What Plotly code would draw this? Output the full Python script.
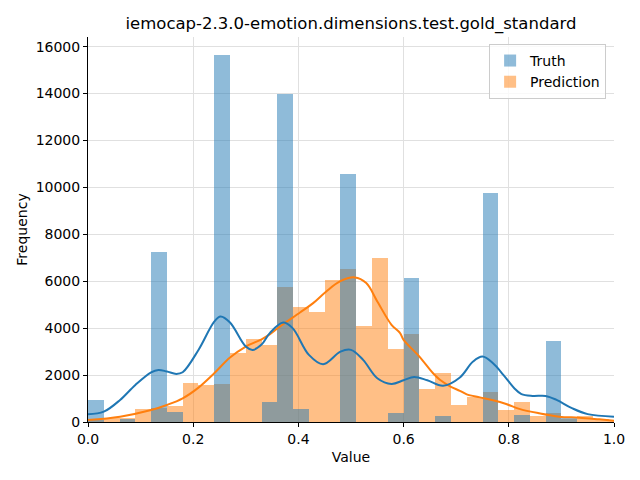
import plotly.graph_objects as go

# Histogram bins (left edges), width 0.03
bin_left = [0.00, 0.03, 0.06, 0.09, 0.12, 0.15, 0.18, 0.21, 0.24, 0.27,
            0.30, 0.33, 0.36, 0.39, 0.42, 0.45, 0.48, 0.51, 0.54, 0.57,
            0.60, 0.63, 0.66, 0.69, 0.72, 0.75, 0.78, 0.81, 0.84, 0.87,
            0.90, 0.93, 0.96, 0.99]
bin_width = 0.03

truth_counts = [940, 0, 110, 0, 7250, 430, 0, 0, 15630, 0,
                0, 855, 13960, 555, 0, 0, 10580, 0, 0, 400,
                6150, 0, 256, 0, 0, 9775, 0, 300, 0, 3455,
                150, 0, 0, 0]
pred_counts = [100, 185, 150, 555, 612, 685, 1665, 1580, 1620, 2946,
               3544, 3290, 5765, 4910, 4670, 6063, 6533, 4100, 7003, 3131,
               3758, 1409, 2092, 740, 1081, 1281, 512, 854, 256, 384,
               140, 242, 114, 40]

# KDE curves
truth_kde_x = [0.0, 0.03, 0.061, 0.09, 0.12, 0.134, 0.15, 0.168, 0.18, 0.21,
               0.24, 0.252, 0.27, 0.30, 0.313, 0.33, 0.346, 0.371, 0.389, 0.42,
               0.447, 0.48, 0.50, 0.523, 0.55, 0.577, 0.60, 0.62, 0.645, 0.675,
               0.707, 0.732, 0.750, 0.77, 0.79, 0.81, 0.824, 0.845, 0.87, 0.89,
               0.92, 0.95, 1.0]
truth_kde_y = [330, 440, 940, 1580, 2120, 2220, 2150, 2050, 2120, 3070,
               4280, 4500, 4240, 3216, 3074, 3300, 3800, 4240, 4000, 2860,
               2460, 3000, 3074, 2650, 1865, 1620, 1780, 1920, 1780, 1545,
               1900, 2576, 2790, 2505, 2000, 1450, 1190, 1110, 1110, 950,
               590, 335, 228]

pred_kde_x = [0.0, 0.061, 0.12, 0.15, 0.18, 0.21, 0.24, 0.27, 0.30, 0.33,
              0.346, 0.365, 0.403, 0.428, 0.453, 0.479, 0.507, 0.529, 0.55, 0.577,
              0.593, 0.60, 0.63, 0.656, 0.669, 0.69, 0.707, 0.72, 0.745, 0.77,
              0.795, 0.82, 0.858, 0.896, 0.934, 0.972, 1.0]
pred_kde_y = [85, 228, 512, 726, 1010, 1466, 2078, 2747, 3216, 3520,
              3743, 4070, 4668, 5067, 5565, 5992, 6163, 5922, 5138, 4142,
              3800, 3500, 2790, 2078, 1800, 1500, 1330, 1180, 1050, 930,
              770, 560, 370, 228, 185, 114, 57]

blue = "#1f77b4"
orange = "#ff7f0e"
blue_fill = "rgba(31,119,180,0.5)"
orange_fill = "rgba(255,127,14,0.5)"
bin_center = [b + bin_width / 2 for b in bin_left]

fig = go.Figure()
fig.add_trace(go.Bar(x=bin_center, y=pred_counts, width=bin_width, name="Prediction",
                     marker=dict(color=orange_fill, line=dict(width=0)),
                     legendrank=2))
fig.add_trace(go.Bar(x=bin_center, y=truth_counts, width=bin_width, name="Truth",
                     marker=dict(color=blue_fill, line=dict(width=0)),
                     legendrank=1))
fig.add_trace(go.Scatter(x=pred_kde_x, y=pred_kde_y, mode="lines",
                         line=dict(color=orange, width=2, shape="spline", smoothing=1.0),
                         showlegend=False, hoverinfo="skip"))
fig.add_trace(go.Scatter(x=truth_kde_x, y=truth_kde_y, mode="lines",
                         line=dict(color=blue, width=2, shape="spline", smoothing=1.0),
                         showlegend=False, hoverinfo="skip"))

fig.update_layout(
    width=640, height=480,
    barmode="overlay", bargap=0,
    paper_bgcolor="white", plot_bgcolor="white",
    font=dict(family="DejaVu Sans", size=14, color="black"),
    margin=dict(l=80, r=34, t=29, b=66, autoexpand=False),
    title=dict(text="iemocap-2.3.0-emotion.dimensions.test.gold_standard",
               x=0.5, xref="paper", xanchor="center",
               y=1 - 15 / 480, yref="container", yanchor="middle",
               font=dict(size=16.5, color="black")),
    legend=dict(x=0.985, y=0.982, xanchor="right", yanchor="top",
                bgcolor="rgba(255,255,255,0.8)", bordercolor="#cccccc", borderwidth=1,
                font=dict(size=14), traceorder="normal", tracegroupgap=0),
    xaxis=dict(range=[0, 1], tickvals=[0, 0.2, 0.4, 0.6, 0.8, 1.0],
               ticktext=["0.0", "0.2", "0.4", "0.6", "0.8", "1.0"],
               showgrid=True, gridcolor="#e0e0e0", gridwidth=0.8,
               showline=True, linecolor="black", linewidth=1,
               ticks="outside", ticklen=4, tickcolor="black",
               zeroline=False,
               title=dict(text="Value", standoff=6, font=dict(size=14))),
    yaxis=dict(range=[0, 16410], tickvals=[0, 2000, 4000, 6000, 8000, 10000, 12000, 14000, 16000],
               showgrid=True, gridcolor="#e0e0e0", gridwidth=0.8,
               showline=True, linecolor="black", linewidth=1,
               ticks="outside", ticklen=4, tickcolor="black",
               zeroline=False, tickformat="d",
               title=dict(text="Frequency", standoff=4, font=dict(size=14))),
)

fig.write_html("out.html")
